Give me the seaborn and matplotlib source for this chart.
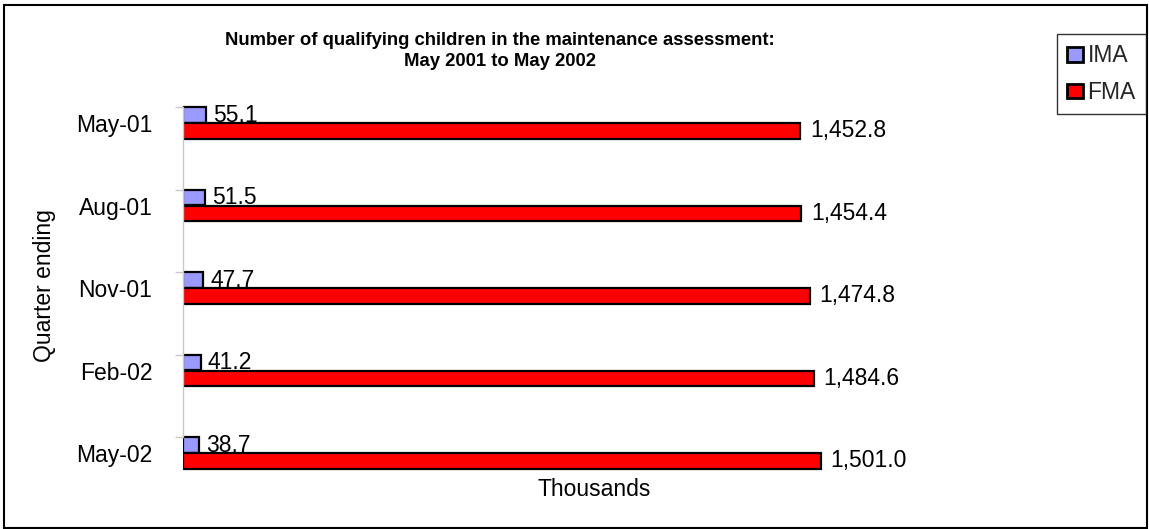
import matplotlib
matplotlib.use("Agg")
import matplotlib.pyplot as plt
from matplotlib.patches import Patch, Rectangle
import seaborn as sns
import pandas as pd

# Quarter-ending categories and series values (thousands of children)
quarters = ["May-01", "Aug-01", "Nov-01", "Feb-02", "May-02"]
ima_values = [55.1, 51.5, 47.7, 41.2, 38.7]
fma_values = [1452.8, 1454.4, 1474.8, 1484.6, 1501.0]
series_names = ["IMA", "FMA"]
series_colors = {"IMA": "#9999FF", "FMA": "#FF0000"}

df = pd.DataFrame({
    "Quarter": quarters * 2,
    "Series": ["IMA"] * len(quarters) + ["FMA"] * len(quarters),
    "Value": ima_values + fma_values,
})

sns.set_theme(style="white")
plt.rcParams["font.family"] = ["Liberation Sans", "DejaVu Sans"]

W, H = 1149, 529
fig = plt.figure(figsize=(W / 100, H / 100), dpi=100)
fig.patch.set_facecolor("white")

# plot area in pixel terms
left_px, right_px = 183, 1005
top_px, bottom_px = 81.75, 477.75
ax = fig.add_axes([left_px / W, 1 - bottom_px / H,
                   (right_px - left_px) / W, (bottom_px - top_px) / H])

sns.barplot(data=df, y="Quarter", x="Value", hue="Series", order=quarters,
            hue_order=series_names, palette=series_colors, orient="h",
            width=0.38, gap=0, edgecolor="black", linewidth=1.6,
            legend=False, ax=ax, saturation=1)

ax.set_xlim(0, (right_px - left_px) / 0.425)
ax.set_ylim(4.3, -0.5)

# value labels
ax.bar_label(ax.containers[0], labels=[f"{v:,.1f}" for v in ima_values],
             padding=5, fontsize=16.5, color="black")
ax.bar_label(ax.containers[1], labels=[f"{v:,.1f}" for v in fma_values],
             padding=7, fontsize=16.5, color="black")

# axes styling
for side in ["top", "right", "bottom"]:
    ax.spines[side].set_visible(False)
ax.spines["left"].set_color("#C8C8C8")
ax.spines["left"].set_linewidth(1.0)
ax.spines["left"].set_bounds(-0.19, len(quarters) - 1 - 0.19)
ax.set_xticks([])
ax.tick_params(axis="y", which="major", length=0, pad=22, labelsize=16.5,
               labelcolor="black")
ax.set_yticks([i - 0.19 for i in range(len(quarters))], minor=True)
ax.tick_params(axis="y", which="minor", length=6, width=1.0, color="#C8C8C8",
               left=True)
ax.set_ylabel("")
ax.set_xlabel("Thousands", fontsize=16.5, labelpad=0, color="black")

fig.text(45 / W, 1 - 286 / H, "Quarter ending", rotation=90, ha="center",
         va="center", fontsize=16.5, color="black")

fig.text(500 / W, 1 - 51 / H,
         "Number of qualifying children in the maintenance assessment:\nMay 2001 to May 2002",
         ha="center", va="center", multialignment="center", fontsize=13.3,
         fontweight="bold", linespacing=1.25, color="black")

handles = [Patch(facecolor=series_colors[s], edgecolor="black", linewidth=2.0)
           for s in series_names]
leg = fig.legend(handles, series_names, loc="upper right",
                 bbox_to_anchor=(1146 / W, 1 - 34 / H), fontsize=16.5,
                 frameon=True, fancybox=False, shadow=False,
                 handlelength=0.7, handleheight=0.6, handletextpad=0.2,
                 labelspacing=0.6, borderpad=0.45, borderaxespad=0)
leg.get_frame().set_edgecolor("black")
leg.get_frame().set_linewidth(1.0)

# outer chart border
fig.patches.append(Rectangle((4 / W, 1 / H), (1147 - 4) / W, (H - 6) / H,
                             transform=fig.transFigure, fill=False,
                             edgecolor="black", linewidth=1.5))

fig.savefig("out.png", dpi=100, facecolor="white")
